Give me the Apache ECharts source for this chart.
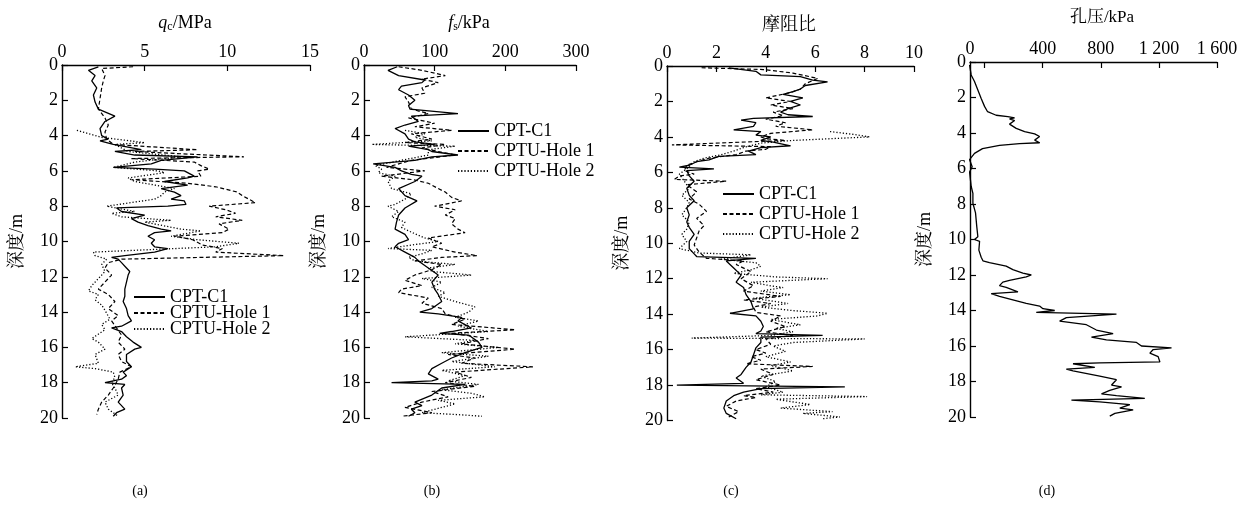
<!DOCTYPE html>
<html>
<head>
<meta charset="utf-8">
<script src="https://cdn.jsdelivr.net/npm/echarts@6/dist/echarts.min.js"></script>
<style>html,body{margin:0;padding:0;background:#fff}#c{width:1250px;height:506px}</style>
</head>
<body>
<div id="c"></div>
<script>
// ---- data: [depth (m), value] ----
const seriesNames = ['CPT-C1', 'CPTU-Hole 1', 'CPTU-Hole 2'];

const qcC1 = [[0.1,2.2],[0.3,1.6],[0.6,2.0],[0.9,1.8],[1.3,2.1],[1.7,1.9],[2.1,2.0],[2.5,2.2],[2.9,3.2],[3.2,2.6],[3.6,2.3],[4.0,2.4],[4.2,2.8],[4.3,2.3],[4.5,3.1],[4.8,4.8],[4.9,3.2],[5.1,4.4],[5.2,8.2],[5.4,6.0],[5.6,5.4],[5.8,3.1],[5.9,5.6],[6.0,7.4],[6.3,8.0],[6.4,7.6],[6.6,6.2],[6.8,7.6],[7.0,6.0],[7.2,6.8],[7.4,7.2],[7.6,6.6],[7.7,7.4],[7.9,7.5],[8.0,6.4],[8.1,3.3],[8.3,3.6],[8.5,5.0],[8.7,4.2],[8.9,4.6],[9.1,5.2],[9.3,6.0],[9.4,6.6],[9.5,5.6],[9.7,5.2],[9.9,5.6],[10.1,5.4],[10.3,5.6],[10.4,6.4],[10.6,5.6],[10.8,3.8],[10.9,3.0],[11.0,3.4],[11.2,3.6],[11.5,3.9],[11.7,4.1],[11.9,4.0],[12.3,3.9],[12.7,3.8],[12.8,3.7],[13.1,3.8],[13.4,3.7],[13.8,3.9],[14.2,4.0],[14.5,4.2],[14.8,3.6],[14.9,3.0],[15.1,3.6],[15.4,3.9],[15.7,4.3],[16.0,4.8],[16.1,4.4],[16.4,3.9],[16.8,3.9],[17.1,4.2],[17.4,3.7],[17.6,3.9],[17.8,3.6],[18.0,2.6],[18.1,3.8],[18.3,3.6],[18.7,3.7],[19.1,3.4],[19.5,3.8],[19.7,3.3],[19.9,3.1]];
const qcH1 = [[0.1,4.3],[0.2,2.4],[0.6,2.6],[0.9,2.5],[1.3,2.4],[1.9,2.3],[2.5,2.2],[3.0,2.6],[3.4,2.8],[3.8,2.6],[4.2,2.7],[4.5,3.1],[4.8,8.2],[4.9,4.4],[5.2,11.0],[5.3,4.2],[5.5,8.0],[5.7,8.4],[5.9,8.9],[6.0,8.2],[6.3,8.4],[6.5,4.2],[6.7,7.6],[6.9,9.3],[7.2,10.6],[7.4,10.9],[7.6,11.3],[7.8,11.7],[8.0,8.9],[8.2,9.9],[8.4,10.5],[8.6,9.3],[8.8,10.9],[9.0,9.5],[9.3,10.1],[9.5,9.7],[9.7,6.8],[9.9,7.9],[10.2,8.5],[10.4,9.7],[10.6,9.3],[10.8,13.4],[11.0,3.6],[11.2,2.8],[11.5,2.6],[11.9,3.0],[12.3,2.6],[12.7,2.2],[13.0,2.8],[13.4,3.2],[13.8,2.8],[14.2,3.4],[14.5,3.0],[14.9,3.3],[15.3,3.6],[15.7,3.4],[16.1,3.8],[16.4,3.4],[16.8,3.6],[17.1,4.2],[17.4,3.5],[17.8,3.4],[18.3,3.1],[18.7,2.8],[19.1,2.4],[19.5,2.2],[19.8,2.1]];
const qcH2 = [[3.7,0.9],[4.1,2.4],[4.4,5.0],[4.5,3.2],[4.7,3.6],[4.9,4.0],[5.2,7.2],[5.5,4.4],[5.8,3.1],[6.0,5.8],[6.1,6.2],[6.4,4.0],[6.6,4.4],[7.0,6.8],[7.2,6.2],[7.4,6.0],[7.6,5.6],[8.0,2.7],[8.3,4.4],[8.4,3.0],[8.6,3.6],[8.8,6.6],[8.9,5.0],[9.3,7.2],[9.4,8.4],[9.7,6.6],[9.9,8.2],[10.1,10.7],[10.3,9.3],[10.6,1.9],[10.8,2.0],[11.0,2.7],[11.1,2.8],[11.3,2.4],[11.7,2.6],[12.1,2.2],[12.5,1.8],[12.8,1.6],[13.0,2.2],[13.3,2.0],[13.6,2.4],[13.9,2.6],[14.4,2.9],[14.7,2.4],[15.0,2.6],[15.5,1.8],[15.7,2.2],[16.1,2.6],[16.4,2.0],[16.9,2.2],[17.1,0.8],[17.2,2.0],[17.4,3.1],[17.7,3.2],[18.0,3.0],[18.3,3.2],[18.7,3.4],[19.1,2.6],[19.5,2.8],[19.9,3.4]];

const fsC1 = [[0.1,47],[0.3,34],[0.6,49],[0.85,86],[1.0,82],[1.2,53],[1.4,49],[1.7,63],[2.0,72],[2.3,63],[2.5,65],[2.75,133],[2.9,67],[3.2,77],[3.4,58],[3.6,44],[3.9,58],[4.2,63],[4.35,72],[4.5,100],[4.6,63],[4.8,91],[4.9,96],[5.1,133],[5.2,96],[5.4,72],[5.6,13],[5.8,44],[6.0,53],[6.2,67],[6.3,82],[6.6,72],[7.0,49],[7.4,58],[7.7,75],[8.1,58],[8.5,49],[8.9,46],[9.3,44],[9.6,58],[9.9,63],[10.1,49],[10.3,44],[10.6,58],[10.9,72],[11.1,77],[11.5,91],[11.9,105],[12.3,96],[12.7,100],[13.0,105],[13.4,110],[13.8,96],[14.0,79],[14.1,105],[14.3,138],[14.5,133],[14.9,152],[15.1,124],[15.2,107],[15.3,148],[15.7,162],[16.0,167],[16.3,143],[16.6,124],[16.9,110],[17.2,96],[17.5,91],[17.8,105],[17.9,96],[18.0,39],[18.1,143],[18.3,110],[18.7,96],[19.1,72],[19.3,82],[19.5,67],[19.7,72],[19.9,63]];
const fsH1 = [[0.1,49],[0.3,82],[0.6,115],[0.8,82],[1.0,105],[1.3,82],[1.6,86],[1.8,58],[2.1,63],[2.5,67],[2.75,91],[3.0,63],[3.3,100],[3.5,72],[3.7,124],[3.9,67],[4.2,96],[4.4,58],[4.5,115],[4.7,82],[4.9,105],[5.1,129],[5.4,67],[5.6,49],[5.8,32],[6.0,86],[6.3,25],[6.5,70],[6.7,91],[7.0,105],[7.2,115],[7.5,124],[7.7,138],[8.0,100],[8.2,129],[8.5,115],[8.7,129],[9.0,124],[9.3,133],[9.5,143],[9.8,91],[10.1,110],[10.3,96],[10.6,129],[10.8,160],[10.9,110],[11.1,72],[11.3,110],[11.6,96],[11.9,72],[12.2,58],[12.5,82],[12.7,53],[12.9,49],[13.2,91],[13.5,82],[13.8,110],[14.1,115],[14.4,143],[14.7,124],[15.0,214],[15.2,124],[15.5,176],[15.8,138],[16.1,214],[16.4,119],[16.6,157],[16.9,138],[17.1,239],[17.4,129],[17.7,152],[18.0,115],[18.2,157],[18.5,96],[18.8,119],[19.1,82],[19.4,58],[19.7,96],[19.9,53]];
const fsH2 = [[3.7,58],[3.9,86],[4.1,72],[4.3,96],[4.5,11],[4.6,129],[4.8,91],[5.1,91],[5.4,53],[5.7,16],[5.9,25],[6.1,20],[6.3,44],[6.6,34],[7.0,39],[7.3,67],[7.6,58],[7.9,44],[8.0,34],[8.3,49],[8.6,39],[8.9,58],[9.2,53],[9.4,63],[9.8,86],[10.0,105],[10.2,67],[10.4,34],[10.5,96],[10.7,82],[10.9,63],[11.1,72],[11.3,129],[11.5,91],[11.7,96],[11.9,152],[12.1,82],[12.3,110],[12.6,96],[12.9,115],[13.1,105],[13.4,129],[13.7,157],[14.0,148],[14.3,129],[14.5,162],[14.8,133],[15.1,176],[15.4,58],[15.6,157],[15.8,129],[16.0,190],[16.3,110],[16.5,176],[16.8,124],[17.1,185],[17.3,110],[17.6,143],[17.9,119],[18.1,162],[18.4,110],[18.6,152],[18.8,171],[19.0,105],[19.2,129],[19.4,110],[19.7,82],[19.8,129],[19.9,167]];

const rfC1 = [[0.1,2.5],[0.3,3.6],[0.5,3.8],[0.6,5.4],[0.8,5.9],[0.9,6.5],[1.1,5.6],[1.3,5.4],[1.45,5.1],[1.6,4.7],[1.8,5.5],[2.0,5.0],[2.2,5.4],[2.4,4.9],[2.6,4.6],[2.75,4.9],[2.85,5.9],[2.95,3.5],[3.05,3.0],[3.2,3.6],[3.4,3.5],[3.6,2.7],[3.7,3.8],[3.9,3.6],[4.0,4.2],[4.2,3.8],[4.3,4.3],[4.5,5.0],[4.6,3.8],[4.8,3.3],[5.0,3.6],[5.1,2.1],[5.3,1.7],[5.4,1.2],[5.6,0.9],[5.7,0.5],[5.8,1.9],[5.9,0.8],[6.2,0.9],[6.5,1.1],[6.9,0.8],[7.3,0.9],[7.6,1.1],[8.0,0.8],[8.4,0.9],[8.8,0.8],[9.1,0.9],[9.5,1.1],[9.9,0.9],[10.3,0.9],[10.6,1.1],[10.75,1.2],[10.85,3.6],[11.0,2.4],[11.4,2.7],[11.8,3.0],[12.2,2.8],[12.5,3.1],[12.9,3.2],[13.3,3.4],[13.7,3.5],[13.95,2.55],[14.1,3.6],[14.4,3.8],[14.7,3.9],[14.95,3.8],[15.1,3.6],[15.2,6.3],[15.3,3.8],[15.6,3.8],[15.9,3.6],[16.3,3.5],[16.7,3.4],[17.0,3.2],[17.4,3.0],[17.6,2.8],[17.9,3.1],[18.0,0.4],[18.1,7.2],[18.2,3.8],[18.4,3.1],[18.6,2.7],[18.9,2.4],[19.3,2.3],[19.6,2.4],[19.9,2.8]];
const rfH1 = [[0.1,1.4],[0.2,3.9],[0.4,5.1],[0.7,6.1],[1.0,5.6],[1.3,5.4],[1.5,5.0],[1.8,4.0],[2.0,5.0],[2.2,4.2],[2.4,5.1],[2.6,4.3],[2.8,4.7],[3.0,4.0],[3.2,4.8],[3.4,4.4],[3.6,5.9],[3.8,4.2],[4.0,3.8],[4.1,4.0],[4.2,4.8],[4.45,0.2],[4.55,4.2],[4.7,4.0],[4.8,3.2],[5.0,2.8],[5.2,1.7],[5.4,1.2],[5.6,0.8],[5.9,0.7],[6.1,1.1],[6.2,0.5],[6.4,0.3],[6.5,2.4],[6.7,0.8],[7.1,1.2],[7.5,0.9],[7.8,1.3],[8.2,1.6],[8.6,1.2],[9.0,1.5],[9.3,1.3],[9.7,1.2],[10.1,1.1],[10.5,1.3],[10.85,1.6],[11.0,3.1],[11.2,2.8],[11.6,3.4],[12.0,3.0],[12.4,3.5],[12.7,3.1],[13.0,4.6],[13.2,3.1],[13.4,4.2],[13.6,3.5],[13.9,3.6],[14.1,4.6],[14.4,4.2],[14.7,4.8],[15.0,4.0],[15.2,5.1],[15.4,4.0],[15.7,4.2],[16.0,3.6],[16.2,4.0],[16.4,3.4],[16.6,3.8],[16.8,3.2],[16.95,5.9],[17.1,3.8],[17.4,4.3],[17.7,3.6],[18.0,4.6],[18.2,3.6],[18.4,4.3],[18.6,3.1],[18.7,3.6],[18.9,2.8],[19.2,2.4],[19.5,2.9],[19.8,2.5]];
const rfH2 = [[3.7,6.6],[3.85,7.5],[4.0,8.2],[4.2,5.1],[4.35,3.8],[4.6,3.1],[4.8,2.7],[5.0,2.2],[5.2,1.5],[5.4,1.1],[5.8,0.8],[6.1,0.5],[6.5,0.7],[6.9,0.9],[7.3,0.6],[7.7,0.9],[8.0,0.8],[8.4,0.6],[8.8,0.9],[9.2,0.8],[9.5,0.6],[9.9,0.8],[10.3,0.5],[10.55,1.3],[10.65,3.4],[10.9,2.2],[11.1,3.6],[11.3,3.8],[11.5,3.4],[11.7,2.7],[11.9,4.4],[12.0,6.5],[12.2,3.4],[12.4,4.2],[12.5,4.7],[12.7,3.8],[12.9,5.0],[13.1,3.5],[13.4,4.9],[13.6,3.8],[13.8,5.1],[13.95,6.5],[14.1,6.1],[14.3,4.2],[14.6,5.4],[14.8,4.4],[15.0,5.1],[15.2,4.2],[15.35,1.0],[15.4,8.0],[15.6,5.1],[15.8,4.3],[16.1,4.8],[16.4,4.0],[16.7,5.0],[16.9,4.2],[17.2,5.1],[17.5,3.8],[17.8,4.4],[18.1,4.0],[18.4,4.7],[18.55,3.8],[18.65,8.1],[18.8,4.4],[19.1,5.8],[19.3,4.6],[19.5,6.7],[19.6,5.5],[19.8,7.0],[19.9,6.3]];

const poreC1 = [[0.17,-103],[0.73,-92],[1.1,-69],[1.58,-46],[2.05,-23],[2.5,0],[2.8,21],[3.0,80],[3.08,160],[3.15,207],[3.2,172],[3.3,207],[3.5,172],[3.74,218],[3.92,276],[4.05,345],[4.2,379],[4.4,345],[4.55,379],[4.6,241],[4.7,103],[4.88,-14],[5.15,-69],[5.5,-103],[5.9,-85],[6.2,-103],[7.0,-92],[7.4,-80],[7.96,-80],[8.5,-62],[9.3,-53],[9.84,-46],[10.0,-69],[10.1,-34],[10.6,-39],[11.0,-23],[11.2,-11],[11.3,34],[11.5,149],[11.7,195],[11.89,264],[12.0,322],[12.1,287],[12.3,172],[12.4,126],[12.6,103],[12.7,149],[12.95,230],[13.05,46],[13.2,103],[13.4,195],[13.6,287],[13.75,379],[13.9,402],[14.0,483],[14.1,356],[14.2,908],[14.4,563],[14.6,517],[14.8,701],[15.1,770],[15.3,885],[15.5,736],[15.65,839],[15.8,1046],[16.0,1080],[16.1,1287],[16.2,1161],[16.4,1138],[16.6,1195],[16.9,1207],[16.95,793],[17.0,609],[17.2,759],[17.3,563],[17.4,609],[17.7,793],[17.9,908],[18.2,874],[18.3,943],[18.5,862],[18.7,805],[18.8,908],[18.95,1103],[19.05,598],[19.15,793],[19.3,1000],[19.5,931],[19.6,1023],[19.8,897],[19.95,862]];

// tick labels
const depthTicks = [0,2,4,6,8,10,12,14,16,18,20];
const poreTickValues = [0,400,800,1200,1600];
const poreLabelValues = [-100,400,800,1200,1600];
const poreTickLabels = ['0','400','800','1 200','1 600'];
const panelTitles = ['{i|q}{s|c}/MPa', '{i|f}{s|s}/kPa', '摩阻比', '孔压/kPa'];
const captions = ['(a)','(b)','(c)','(d)'];
const depthName = '深度/m';

// ---- chart ----
const FONT = "'Liberation Serif','Times New Roman','Noto Serif CJK SC','Noto Sans CJK SC',serif";
const BLACK = '#000';
const grids = [
  {left:62, top:65, width:248, height:353},
  {left:364, top:65, width:212, height:353},
  {left:667, top:66, width:247, height:354.5},
  {left:970, top:62, width:247, height:355}
];
const xRanges = [
  {min:0, max:15, interval:5},
  {min:0, max:300, interval:100},
  {min:0, max:10, interval:2},
  {min:-100, max:1600}
];
const lineTypes = ['solid', [4,2.5], [1.2,2]];
const lineWidths = [1.3, 1.2, 1.3];

const xAxes = xRanges.map((r, i) => {
  const ax = {
    type:'value', gridIndex:i, position:'top', min:r.min, max:r.max,
    splitLine:{show:false},
    axisLine:{show:true, onZero:false, lineStyle:{color:BLACK, width:1.4}},
    axisTick:{show:true, inside:true, length:6, lineStyle:{color:BLACK, width:1.2}},
    axisLabel:{color:BLACK, fontSize:18, fontFamily:FONT, margin:4}
  };
  if (r.interval) ax.interval = r.interval;
  if (i === 3) {
    ax.axisTick.customValues = poreTickValues;
    ax.axisLabel.customValues = poreLabelValues;
    ax.axisLabel.formatter = v => poreTickLabels[poreLabelValues.indexOf(v)] ?? '';
  }
  return ax;
});
const yAxes = grids.map((g, i) => ({
  type:'value', gridIndex:i, inverse:true, min:0, max:20, interval:2,
  name: depthName, nameLocation:'middle', nameGap: 36, nameRotate: 90,
  nameTextStyle:{color:BLACK, fontSize:18, fontFamily:FONT},
  splitLine:{show:false},
  axisLine:{show:true, onZero:false, lineStyle:{color:BLACK, width:1.4}},
  axisTick:{show:true, inside:true, length:6, lineStyle:{color:BLACK, width:1.2}},
  axisLabel:{color:BLACK, fontSize:18, fontFamily:FONT, margin:4,
    formatter: v => depthTicks.includes(v) ? String(v) : ''}
}));

const panelData = [[qcC1,qcH1,qcH2],[fsC1,fsH1,fsH2],[rfC1,rfH1,rfH2],[poreC1]];
const series = [];
panelData.forEach((arr, p) => {
  arr.forEach((pts, k) => {
    series.push({
      type:'line', name: p === 3 ? '孔压' : seriesNames[k],
      xAxisIndex:p, yAxisIndex:p, symbol:'none', silent:true,
      lineStyle:{color:BLACK, width: p===3 ? 1.3 : lineWidths[k], type: lineTypes[k]},
      itemStyle:{color:BLACK},
      data: pts.map(([d, v]) => [v, d])
    });
  });
});

const titleCenters = [[185,13],[469,13],[789,15],[1102,8]];
const captionCenters = [[140,484],[432,484],[731,484],[1047,484]];
const titles = [];
panelTitles.forEach((t, i) => titles.push({
  text:t, left:titleCenters[i][0], top:titleCenters[i][1], textAlign:'center', padding:0,
  textStyle:{color:BLACK, fontSize: i===3 ? 17 : 18, fontWeight:'normal', fontFamily:FONT, lineHeight:20,
    rich:{
      i:{fontStyle:'italic', fontSize:18, fontFamily:FONT, color:BLACK, lineHeight:20},
      s:{fontSize:12, fontFamily:FONT, color:BLACK, lineHeight:12, verticalAlign:'bottom'}
    }}
}));
captions.forEach((t, i) => titles.push({
  text:t, left:captionCenters[i][0], top:captionCenters[i][1], textAlign:'center', padding:0,
  textStyle:{color:BLACK, fontSize:14, fontWeight:'normal', fontFamily:FONT}
}));

const legendPos = [[133,288,16,-2],[457,121,20,0],[722,184,20,0]];
const legends = legendPos.map(([l, t, lh, gap]) => ({
  orient:'vertical', left:l, top:t, padding:0, itemGap:gap,
  itemWidth:31, itemHeight:10, selectedMode:false,
  data: seriesNames,
  itemStyle:{color:'transparent', borderColor:'transparent', borderWidth:0, opacity:0},
  textStyle:{color:BLACK, fontSize:18, fontFamily:FONT, lineHeight:lh}
}));

const chart = echarts.init(document.getElementById('c'), null, {renderer:'canvas'});
chart.setOption({
  animation:false,
  backgroundColor:'#fff',
  title: titles,
  legend: legends,
  grid: grids,
  xAxis: xAxes,
  yAxis: yAxes,
  series: series
});
</script>
</body>
</html>
